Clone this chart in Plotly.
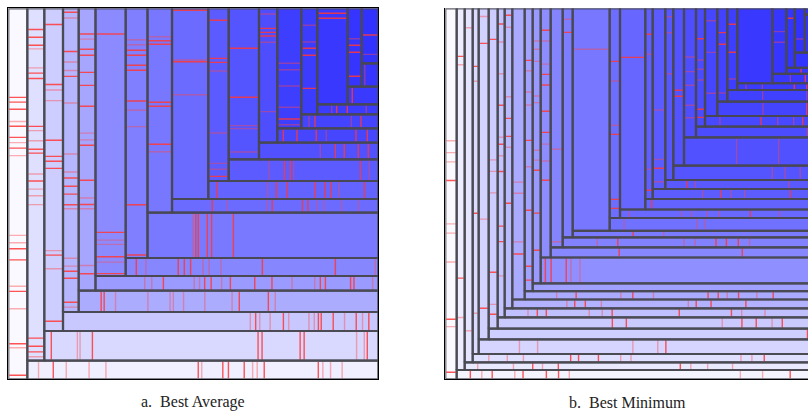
import plotly.graph_objects as go
from plotly.colors import sample_colorscale

# ---------------------------------------------------------------------------
# a. Best Average -- nested "corner" treemap: column, strip, column, strip, ...
# areas in square units of a 370 x 371 frame, score in [0, 1] drives the shade
# marks: (position along the cell's long side as a fraction, hits)
# ---------------------------------------------------------------------------
avg_col_area = [7049, 5991, 6034, 4768, 4744, 8085, 5443, 5008, 6922, 3523,
                4575, 2460, 2880, 1696, 2918, 1098, 913]
avg_strip_area = [6529, 9920, 5991, 6381, 4157, 4547, 10455, 2826, 3060, 3246,
                  1980, 1454, 1078, 610, 539, 388]
avg_col_score = [0.0, 0.13, 0.215, 0.33, 0.41, 0.54, 0.6, 0.64, 0.7, 0.78,
                 0.81, 0.84, 0.92, 0.93, 0.95, 0.965, 0.98]
avg_strip_score = [0.05, 0.16, 0.24, 0.38, 0.465, 0.565, 0.63, 0.7, 0.74, 0.78,
                   0.83, 0.88, 0.89, 0.93, 0.94, 0.965]
avg_col_marks = [
    [(0.240, 2), (0.253, 2), (0.272, 2), (0.305, 1), (0.318, 2), (0.348, 2), (0.362, 1), (0.377, 2),
     (0.397, 1), (0.612, 1), (0.632, 1), (0.648, 2), (0.678, 2), (0.749, 1), (0.763, 2), (0.810, 1),
     (0.904, 2), (0.915, 1), (0.989, 2)],
    [(0.060, 2), (0.082, 2), (0.105, 2), (0.115, 1), (0.169, 1), (0.184, 2), (0.199, 2), (0.335, 2),
     (0.347, 1), (0.376, 1), (0.400, 2), (0.411, 2), (0.470, 1), (0.490, 2), (0.513, 1), (0.532, 1),
     (0.557, 1), (0.936, 2), (0.959, 2), (0.975, 2), (0.989, 1)],
    [(0.050, 2), (0.236, 2), (0.253, 1), (0.286, 1), (0.409, 2), (0.459, 2), (0.474, 2), (0.496, 2),
     (0.751, 1), (0.765, 2), (0.807, 1), (0.970, 2)],
    [(0.013, 2), (0.032, 1), (0.142, 2), (0.177, 1), (0.205, 1), (0.224, 2), (0.312, 1), (0.480, 1),
     (0.539, 1), (0.559, 2), (0.586, 2), (0.612, 2), (0.647, 2), (0.660, 1), (0.823, 1), (0.849, 1),
     (0.866, 2), (0.889, 2), (0.968, 2), (0.984, 1)],
    [(0.091, 2), (0.109, 1), (0.145, 2), (0.166, 2), (0.227, 2), (0.273, 2), (0.347, 2), (0.442, 1),
     (0.466, 1), (0.485, 2), (0.609, 2), (0.672, 1), (0.695, 2), (0.710, 1), (0.911, 1), (0.940, 2)],
    [(0.096, 2), (0.837, 2), (0.866, 1), (0.882, 1), (0.928, 2), (0.948, 1), (0.991, 2)],
    [(0.126, 1), (0.146, 1), (0.168, 2), (0.188, 2), (0.228, 2), (0.248, 2), (0.371, 2), (0.408, 1),
     (0.474, 1), (0.787, 2), (0.988, 2)],
    [(0.139, 1), (0.159, 2), (0.176, 2), (0.460, 2), (0.479, 2), (0.665, 2), (0.702, 1)],
    [(0.010, 2), (0.271, 1), (0.280, 2), (0.453, 1)],
    [(0.069, 2), (0.290, 2), (0.313, 2), (0.363, 1), (0.722, 1), (0.898, 1), (0.932, 1), (0.973, 2)],
    [(0.265, 2), (0.589, 2), (0.777, 1), (0.797, 1), (0.952, 1)],
    [(0.042, 1), (0.149, 2), (0.179, 2), (0.206, 2), (0.253, 1), (0.769, 1)],
    [(0.458, 1), (0.512, 1), (0.648, 1), (0.825, 1), (0.923, 2), (0.970, 1)],
    [(0.160, 1), (0.318, 1), (0.377, 2), (0.443, 2), (0.755, 2)],
    [(0.052, 2), (0.104, 2)],
    [(0.388, 1), (0.472, 2), (0.561, 2), (0.867, 2)],
    [(0.485, 2), (0.836, 1)],
]
avg_strip_marks = [
    [(0.032, 1), (0.074, 2), (0.111, 1), (0.176, 1), (0.224, 1), (0.487, 2), (0.497, 1), (0.557, 2),
     (0.573, 2), (0.618, 2), (0.642, 1), (0.655, 1), (0.675, 2), (0.829, 2), (0.842, 1), (0.864, 1),
     (0.897, 1)],
    [(0.021, 2), (0.099, 1), (0.107, 1), (0.144, 2), (0.640, 2), (0.652, 2), (0.766, 2), (0.778, 2),
     (0.935, 1), (0.958, 1), (0.967, 2)],
    [(0.594, 1), (0.611, 2), (0.624, 1), (0.657, 1), (0.699, 2), (0.716, 1), (0.780, 1), (0.797, 1),
     (0.810, 2), (0.819, 2), (0.857, 2), (0.893, 1), (0.930, 2), (0.950, 1), (0.970, 2)],
    [(0.075, 2), (0.085, 2), (0.123, 1), (0.231, 1), (0.305, 1), (0.316, 1), (0.350, 1), (0.421, 1),
     (0.512, 1), (0.536, 2), (0.633, 2), (0.656, 1)],
    [(0.174, 1), (0.199, 1), (0.240, 2), (0.349, 1), (0.368, 1), (0.386, 2), (0.409, 2), (0.446, 1),
     (0.477, 2), (0.563, 2), (0.624, 2), (0.695, 1), (0.775, 1), (0.795, 2), (0.813, 2), (0.902, 2),
     (0.914, 2), (0.980, 1)],
    [(0.042, 2), (0.080, 1), (0.208, 2), (0.232, 2), (0.257, 2), (0.306, 1), (0.330, 1), (0.377, 1),
     (0.541, 2), (0.830, 2), (0.988, 1)],
    [(0.197, 1), (0.209, 2), (0.220, 2), (0.259, 2), (0.278, 2), (0.372, 2)],
    [(0.195, 2), (0.267, 1), (0.462, 1), (0.486, 2), (0.632, 2), (0.659, 2), (0.701, 1), (0.737, 1),
     (0.823, 1), (0.903, 1)],
    [(0.051, 2), (0.349, 1), (0.400, 2), (0.465, 2), (0.629, 2), (0.688, 2), (0.722, 2), (0.767, 1),
     (0.918, 2)],
    [(0.269, 1), (0.372, 2), (0.412, 2), (0.434, 1), (0.880, 2), (0.940, 1)],
    [(0.514, 1), (0.640, 2), (0.715, 2), (0.832, 2), (0.916, 2)],
    [(0.059, 2), (0.195, 2), (0.386, 2), (0.485, 1), (0.779, 2), (0.891, 2)],
    [(0.100, 1), (0.178, 2), (0.649, 1), (0.775, 2)],
    [(0.236, 1), (0.318, 2), (0.492, 2), (0.803, 1)],
    [(0.150, 2)],
    [(0.187, 1)],
]

# ---------------------------------------------------------------------------
# b. Best Minimum
# ---------------------------------------------------------------------------
min_col_area = [4229, 2894, 2832, 2074, 3310, 2884, 2163, 2280, 3611, 2263,
                2200, 2492, 2868, 2290, 8233, 2160, 5090, 1411, 2277, 1374,
                1684, 1548, 1066, 1325, 934, 817, 2625, 920, 501, 444, 67]
min_strip_area = [3335, 2700, 2844, 4948, 3462, 3621, 2795, 2666, 2412, 2233,
                  7085, 2699, 2526, 1577, 2632, 1660, 1785, 1626, 1350, 2031,
                  3729, 1265, 1180, 1401, 1030, 523, 400, 174, 315, 400]
min_col_score = [0.0, 0.06, 0.10, 0.15, 0.19, 0.22, 0.26, 0.31, 0.39, 0.43,
                 0.475, 0.53, 0.575, 0.61, 0.64, 0.69, 0.72, 0.76, 0.78, 0.80,
                 0.82, 0.84, 0.86, 0.88, 0.90, 0.92, 0.95, 0.96, 0.97, 0.98, 0.99]
min_strip_score = [0.025, 0.08, 0.13, 0.175, 0.205, 0.23, 0.28, 0.35, 0.39, 0.44,
                   0.52, 0.56, 0.585, 0.62, 0.67, 0.71, 0.74, 0.77, 0.79, 0.81,
                   0.83, 0.85, 0.87, 0.89, 0.91, 0.93, 0.95, 0.96, 0.97, 0.98]
min_col_marks = [
    [(0.357, 1), (0.389, 1), (0.414, 1), (0.464, 2), (0.581, 1), (0.606, 1), (0.684, 1), (0.838, 2),
     (0.858, 1), (0.981, 2)],
    [(0.133, 2), (0.156, 1), (0.746, 2), (0.855, 1)],
    [(0.055, 1), (0.911, 1)],
    [(0.168, 2), (0.211, 1), (0.593, 2), (0.882, 1)],
    [(0.025, 1), (0.106, 2), (0.637, 1), (0.906, 2)],
    [(0.097, 2), (0.473, 1), (0.509, 1), (0.576, 1), (0.824, 2), (0.924, 1), (0.955, 2)],
    [(0.051, 2), (0.109, 1), (0.212, 1), (0.314, 2), (0.417, 1), (0.440, 2), (0.477, 1), (0.528, 2),
     (0.705, 2), (0.755, 2), (0.866, 1)],
    [(0.023, 2), (0.063, 1), (0.295, 1), (0.367, 2), (0.427, 2), (0.463, 1), (0.650, 2)],
    [(0.597, 1), (0.635, 1), (0.802, 1), (0.844, 2)],
    [(0.184, 2), (0.221, 1), (0.296, 1), (0.342, 1), (0.467, 2), (0.560, 1), (0.714, 2), (0.912, 2),
     (0.961, 2)],
    [(0.119, 1), (0.149, 1), (0.193, 1), (0.319, 1), (0.343, 1), (0.516, 1), (0.552, 1), (0.589, 2),
     (0.745, 2), (0.880, 2)],
    [(0.088, 2), (0.131, 1), (0.224, 1), (0.265, 2), (0.308, 2), (0.413, 2), (0.498, 2), (0.545, 1),
     (0.613, 1), (0.690, 2)],
    [(0.590, 1), (0.977, 1)],
    [(0.048, 1), (0.105, 2)],
    [(0.184, 1)],
    [(0.253, 2), (0.347, 1), (0.558, 1), (0.601, 2), (0.911, 2), (0.954, 2)],
    [(0.244, 2)],
    [(0.136, 2), (0.241, 1), (0.844, 1), (0.954, 2)],
    [(0.563, 1), (0.836, 1), (0.885, 2), (0.960, 1)],
    [(0.049, 1), (0.142, 1), (0.381, 1)],
    [(0.521, 2), (0.559, 2)],
    [(0.378, 1), (0.491, 1), (0.597, 1), (0.752, 1), (0.848, 1)],
    [(0.257, 2), (0.437, 1), (0.515, 1), (0.606, 1), (0.853, 2), (0.921, 2)],
    [(0.115, 1), (0.409, 1), (0.789, 1)],
    [(0.261, 2), (0.385, 2), (0.907, 1)],
    [(0.196, 2), (0.539, 2), (0.865, 1)],
    [],
    [(0.356, 1), (0.518, 1)],
    [(0.168, 2)],
    [(0.691, 1)],
    [],
]
min_strip_marks = [
    [(0.038, 2), (0.070, 1), (0.099, 2), (0.162, 1), (0.185, 2), (0.250, 2), (0.284, 2), (0.314, 1),
     (0.791, 1), (0.853, 1), (0.930, 2)],
    [(0.037, 1), (0.139, 1), (0.194, 2), (0.222, 1), (0.267, 2), (0.615, 2), (0.645, 1), (0.693, 1),
     (0.764, 1)],
    [(0.047, 1), (0.101, 1), (0.148, 1), (0.286, 2), (0.309, 2), (0.367, 2), (0.432, 1), (0.462, 1),
     (0.783, 1), (0.815, 1), (0.851, 2)],
    [(0.121, 1), (0.175, 1), (0.458, 1), (0.532, 1), (0.556, 2)],
    [(0.976, 2)],
    [(0.361, 2), (0.405, 2), (0.707, 1), (0.769, 2), (0.814, 2), (0.864, 1), (0.896, 2)],
    [(0.075, 1), (0.105, 2), (0.134, 2), (0.272, 1), (0.314, 1), (0.346, 2), (0.562, 2), (0.730, 2),
     (0.763, 1), (0.838, 1)],
    [(0.180, 1), (0.206, 2), (0.241, 2), (0.294, 1), (0.581, 1), (0.607, 2), (0.656, 2), (0.771, 2)],
    [(0.110, 1), (0.177, 2), (0.331, 1), (0.372, 2), (0.443, 1), (0.631, 2), (0.666, 2), (0.697, 1),
     (0.736, 2), (0.799, 1), (0.855, 2)],
    [],
    [(0.017, 2), (0.038, 2), (0.093, 2), (0.110, 1), (0.143, 1)],
    [(0.259, 2), (0.724, 2)],
    [(0.137, 1), (0.218, 2), (0.480, 1), (0.524, 1), (0.607, 2), (0.648, 2), (0.695, 2), (0.740, 1)],
    [(0.249, 2), (0.375, 1)],
    [(0.070, 1), (0.423, 1), (0.462, 1)],
    [(0.045, 1), (0.316, 1), (0.367, 1), (0.447, 1), (0.508, 1), (0.667, 2), (0.818, 1)],
    [(0.038, 2)],
    [(0.308, 1), (0.418, 2), (0.480, 1), (0.566, 1), (0.846, 2)],
    [(0.143, 2), (0.200, 1), (0.823, 1)],
    [(0.697, 1), (0.787, 1), (0.894, 1)],
    [(0.401, 1), (0.721, 1)],
    [(0.933, 1)],
    [(0.136, 1), (0.508, 2), (0.659, 1), (0.804, 1), (0.886, 2)],
    [(0.466, 1), (0.912, 2)],
    [(0.402, 1), (0.902, 1)],
    [(0.112, 1), (0.321, 1), (0.731, 2), (0.890, 2)],
    [(0.419, 1), (0.767, 2)],
    [(0.507, 2)],
    [],
    [],
]

captions = ["a.  Best Average", "b.  Best Minimum"]

# ---------------------------------------------------------------------------
FRAME_W, FRAME_H = 370.0, 371.0
SHADES = [[0.0, "rgb(249,249,255)"], [1.0, "rgb(46,46,255)"]]
BORDER = "rgba(72,72,80,0.85)"
MARK_COLOR = {2: "rgba(255,55,55,0.85)", 1: "rgba(255,70,70,0.42)"}


def corner_layout(col_area, strip_area, width, height):
    """Peel a column off the left, then a strip off the bottom, repeatedly."""
    x0, y0, x1, y1 = 0.0, 0.0, width, height
    cells = []
    for i, a in enumerate(col_area):
        last = i == len(col_area) - 1
        w = (x1 - x0) if last else a / (y1 - y0)
        cells.append(("col", i, x0, y0, x0 + w, y1))
        x0 += w
        if i < len(strip_area):
            h = strip_area[i] / (x1 - x0)
            cells.append(("strip", i, x0, y0, x1, y0 + h))
            y0 += h
    return cells


def panel_traces(col_area, strip_area, col_score, strip_score, col_marks, strip_marks, xa, ya):
    cells = corner_layout(col_area, strip_area, FRAME_W, FRAME_H)
    traces = []
    for kind, i, x0, y0, x1, y1 in cells:
        score = col_score[i] if kind == "col" else strip_score[i]
        fill = sample_colorscale(SHADES, [score])[0]
        traces.append(go.Scatter(
            x=[x0, x1, x1, x0, x0], y=[y0, y0, y1, y1, y0],
            mode="lines", fill="toself", fillcolor=fill,
            line=dict(width=0, color=fill), hoverinfo="skip",
            showlegend=False, xaxis=xa, yaxis=ya))

    for level in (1, 2):
        mx, my = [], []
        for kind, i, x0, y0, x1, y1 in cells:
            marks = col_marks[i] if kind == "col" else strip_marks[i]
            for frac, hits in marks:
                if hits != level:
                    continue
                if kind == "col":
                    yy = y1 - frac * (y1 - y0)
                    mx += [x0 + 1, x1 - 1, None]
                    my += [yy, yy, None]
                else:
                    xx = x0 + frac * (x1 - x0)
                    mx += [xx, xx, None]
                    my += [y0 + 1, y1 - 1, None]
        traces.append(go.Scatter(
            x=mx, y=my, mode="lines",
            line=dict(color=MARK_COLOR[level], width=1.4),
            hoverinfo="skip", showlegend=False, xaxis=xa, yaxis=ya))

    bx, by = [], []
    for kind, i, x0, y0, x1, y1 in cells:
        bx += [x0, x1, x1, x0, x0, None]
        by += [y0, y0, y1, y1, y0, None]
    traces.append(go.Scatter(
        x=bx, y=by, mode="lines", line=dict(color=BORDER, width=2.2),
        hoverinfo="skip", showlegend=False, xaxis=xa, yaxis=ya))
    return traces


fig = go.Figure()
for t in panel_traces(avg_col_area, avg_strip_area, avg_col_score, avg_strip_score,
                      avg_col_marks, avg_strip_marks, "x", "y"):
    fig.add_trace(t)
for t in panel_traces(min_col_area, min_strip_area, min_col_score, min_strip_score,
                      min_col_marks, min_strip_marks, "x2", "y2"):
    fig.add_trace(t)

W, H = 808, 419
top_px, bottom_px = 8.3, 379.3
ydom = [(H - bottom_px) / H, (H - top_px) / H]
a_left, b_left = 8.3, 445.3

axis_common = dict(showgrid=False, zeroline=False, showticklabels=False, ticks="")
fig.update_layout(
    width=W, height=H,
    margin=dict(l=0, r=0, t=0, b=0),
    paper_bgcolor="white", plot_bgcolor="white",
    showlegend=False,
    xaxis=dict(domain=[a_left / W, (a_left + FRAME_W) / W], range=[0, FRAME_W],
               showline=True, linecolor="black", linewidth=1, mirror=True, **axis_common),
    yaxis=dict(domain=ydom, range=[0, FRAME_H],
               showline=True, linecolor="black", linewidth=1, mirror=True, **axis_common),
    xaxis2=dict(domain=[b_left / W, 1.0], range=[0, W - b_left], anchor="y2",
                showline=True, linecolor="black", linewidth=1, **axis_common),
    yaxis2=dict(domain=ydom, range=[0, FRAME_H], anchor="x2",
                showline=True, linecolor="black", linewidth=1, **axis_common),
)

for text, cx in zip(captions, [a_left + FRAME_W / 2, b_left + FRAME_W / 2 - 3]):
    fig.add_annotation(
        text=text, xref="paper", yref="paper", x=cx / W, y=(H - 402) / H,
        xanchor="center", yanchor="middle", showarrow=False,
        font=dict(family="Liberation Serif, DejaVu Serif, serif", size=16, color="#222"))

fig.write_html("out.html")
